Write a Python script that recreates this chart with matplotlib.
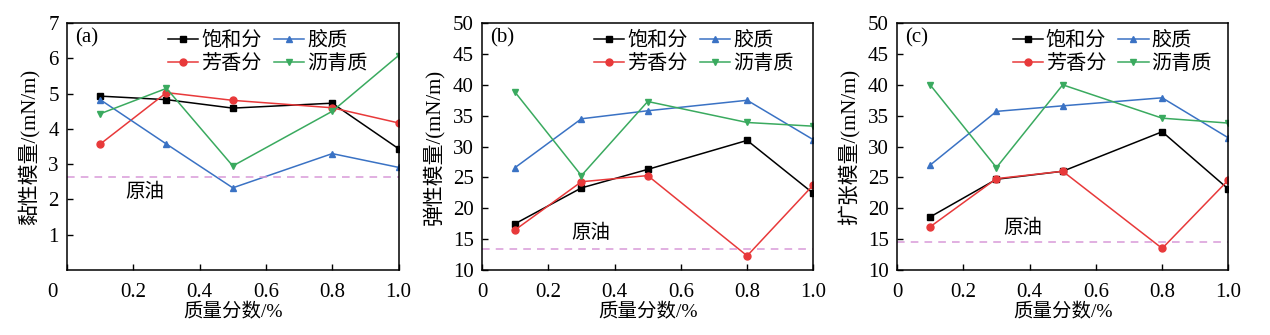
import matplotlib
matplotlib.use("Agg")
import matplotlib.pyplot as plt
from matplotlib.transforms import ScaledTranslation

plt.rcParams['font.family'] = ['Liberation Serif', 'Noto Sans CJK SC']
plt.rcParams['axes.unicode_minus'] = False

# mass fraction, %
x = [0.1, 0.3, 0.5, 0.8, 1.0]
names = ['饱和分', '芳香分', '胶质', '沥青质']

# (a) viscous modulus, mN/m
visc_sat = [4.93, 4.83, 4.59, 4.73, 3.44]
visc_aro = [3.57, 5.03, 4.81, 4.60, 4.17]
visc_res = [4.83, 3.57, 2.33, 3.30, 2.91]
visc_asp = [4.43, 5.15, 2.95, 4.50, 6.08]
visc_crude = 2.63

# (b) elastic modulus, mN/m
elas_sat = [17.5, 23.3, 26.3, 31.0, 22.4]
elas_aro = [16.5, 24.3, 25.3, 12.3, 23.8]
elas_res = [26.6, 34.5, 35.8, 37.5, 31.1]
elas_asp = [38.8, 25.3, 37.3, 33.9, 33.3]
elas_crude = 13.45

# (c) dilational modulus, mN/m
dil_sat = [18.6, 24.7, 26.0, 32.4, 23.1]
dil_aro = [17.0, 24.8, 26.0, 13.5, 24.6]
dil_res = [27.0, 35.7, 36.6, 37.9, 31.4]
dil_asp = [40.0, 26.6, 40.0, 34.6, 33.8]
dil_crude = 14.6

colors = ['black', '#e8393a', '#3a72c4', '#3aaa5f']
markers = ['s', 'o', '^', 'v']

panels = [
    ('(a)', '黏性模量/(mN/m)', [visc_sat, visc_aro, visc_res, visc_asp], visc_crude,
     (0, 7), [1, 2, 3, 4, 5, 6, 7], (0.175, 0.316), 0.906),
    ('(b)', '弹性模量/(mN/m)', [elas_sat, elas_aro, elas_res, elas_asp], elas_crude,
     (10, 50), [10, 15, 20, 25, 30, 35, 40, 45, 50], (0.27, 0.15), 0.94),
    ('(c)', '扩张模量/(mN/m)', [dil_sat, dil_aro, dil_res, dil_asp], dil_crude,
     (10, 50), [10, 15, 20, 25, 30, 35, 40, 45, 50], (0.32, 0.17), 0.95),
]
lefts = [0.0528, 0.3795, 0.7063]

fig = plt.figure(figsize=(12.7, 3.35), dpi=100)

for i, (left, (tag, ylab, series, crude, ylim, yticks, txt, leg_x)) in enumerate(zip(lefts, panels)):
    ax = fig.add_axes([left, 0.194, 0.261, 0.737])
    for ys, name, c, m in zip(series, names, colors, markers):
        ax.plot(x, ys, color=c, marker=m, ms=5, lw=1.1, label=name)
    ax.axhline(crude, color='#d89ad8', ls=(0, (5, 4)), lw=1.1)
    ax.text(txt[0], txt[1], '原油', transform=ax.transAxes, fontsize=14,
            va='center', ha='left')
    ax.text(0.025, 0.94, tag, transform=ax.transAxes, fontsize=15,
            va='center', ha='left')

    ax.set_xlim(0, 1.0)
    ax.set_ylim(*ylim)
    ax.set_xticks([0, 0.2, 0.4, 0.6, 0.8, 1.0])
    ax.set_xticklabels(['0', '0.2', '0.4', '0.6', '0.8', '1.0'])
    ax.set_yticks(yticks)
    ax.tick_params(direction='in', length=4, width=1.0, labelsize=15, pad=6)
    ax.tick_params(axis='x', pad=9)
    for sp in ax.spines.values():
        sp.set_linewidth(1.1)

    if i == 0:
        # the origin label sits a bit left of the spine here
        lab = ax.get_xticklabels()[0]
        lab.set_transform(lab.get_transform()
                          + ScaledTranslation(-0.15, 0, fig.dpi_scale_trans))

    ax.set_xlabel('质量分数/%', fontsize=14, labelpad=1)
    ax.set_ylabel(ylab, fontsize=15, labelpad=6)

    ax.legend(loc='upper right', ncol=2, frameon=False, fontsize=14.5,
              handlelength=1.5, handletextpad=0.15, columnspacing=0.6,
              labelspacing=0.2, borderpad=0, borderaxespad=0,
              bbox_to_anchor=(leg_x, 0.965))

fig.savefig('out.png', dpi=100)
